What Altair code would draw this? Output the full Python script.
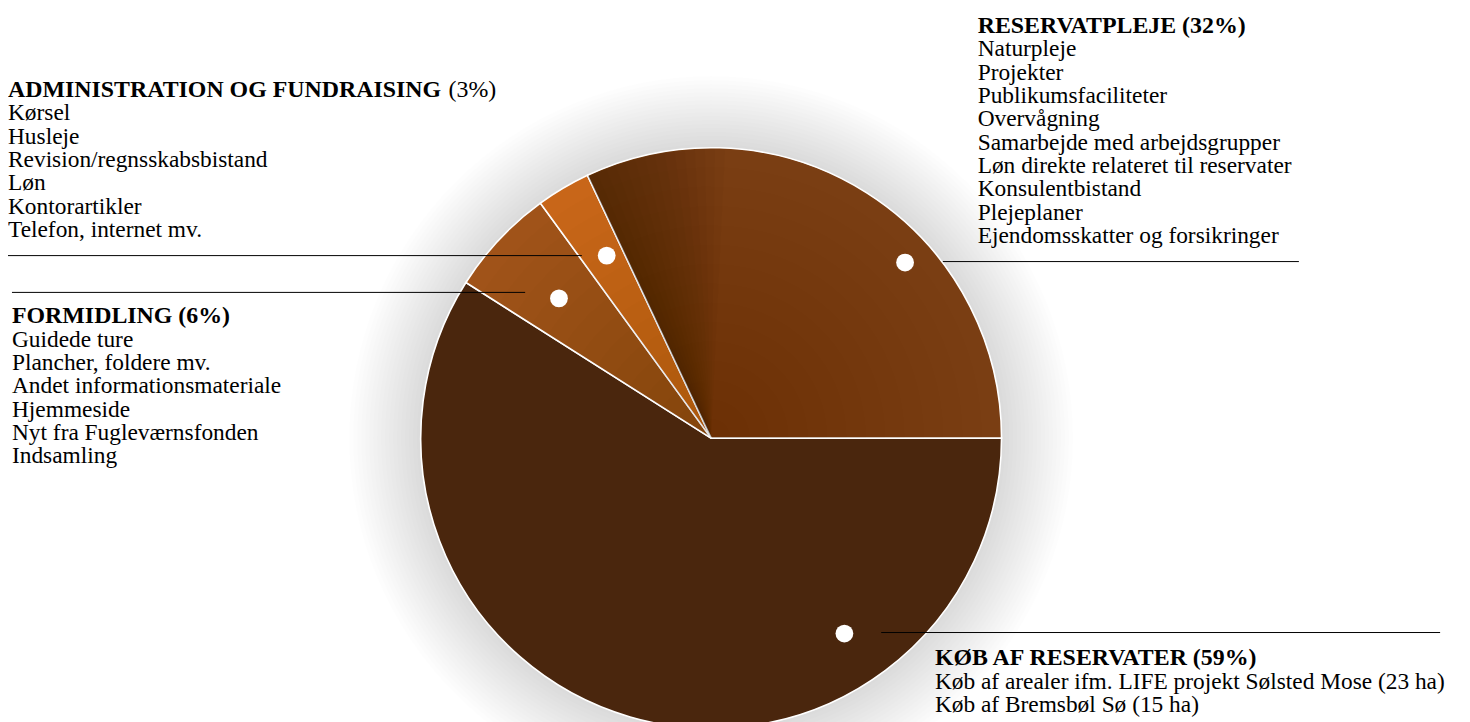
import math
import altair as alt
import pandas as pd

# ---- data ----
categories = ["KØB AF RESERVATER", "FORMIDLING", "ADMINISTRATION OG FUNDRAISING", "RESERVATPLEJE"]
shares = [59, 6, 3, 32]
slice_colors = ["#4a260d", "#a05319", "#c86619", "#7a3e13"]

items = [
    ["Køb af arealer ifm. LIFE projekt Sølsted Mose (23 ha)", "Køb af Bremsbøl Sø (15 ha)"],
    ["Guidede ture", "Plancher, foldere mv.", "Andet informationsmateriale", "Hjemmeside",
     "Nyt fra Fugleværnsfonden", "Indsamling"],
    ["Kørsel", "Husleje", "Revision/regnsskabsbistand", "Løn", "Kontorartikler", "Telefon, internet mv."],
    ["Naturpleje", "Projekter", "Publikumsfaciliteter", "Overvågning", "Samarbejde med arbejdsgrupper",
     "Løn direkte relateret til reservater", "Konsulentbistand", "Plejeplaner", "Ejendomsskatter og forsikringer"],
]
pct_bold = [True, True, False, True]

# ---- layout (pixels in chart coordinates; page = chart + 8) ----
W, H = 1462, 714
CX, CY, R = 707, 430.5, 292
FONT = "Liberation Serif"
FS = 23.5
FS_TITLE = 24
LH = 23.5
START = math.pi / 2

dot_x = [841, 554, 602, 902]
dot_y = [627, 290, 247, 254]
rule_x1 = [878, 4, 0, 940]
rule_x2 = [1440, 520, 577, 1298]
rule_y = [626, 284, 247, 253]
text_x = [932, 4, 0, 975]
title_y = [659, 315, 87.5, 23]
pct_x_extra = 443  # x of the non-bold percentage for the admin title

pie_df = pd.DataFrame({"cat": categories, "share": shares, "order": list(range(len(categories)))})

titles = [c + (f" ({s}%)" if b else "") for c, s, b in zip(categories, shares, pct_bold)]
lab_df = pd.DataFrame({
    "cat": categories,
    "title": titles,
    "body": ["\n".join(i) for i in items],
    "dx": dot_x, "dy": dot_y,
    "rx1": rule_x1, "rx2": rule_x2, "ry": rule_y,
    "tx": text_x, "ty": title_y,
    "by": [t + LH for t in title_y],
})
extra_df = pd.DataFrame({
    "t": [f"({s}%)" for s, b in zip(shares, pct_bold) if not b],
    "x": [pct_x_extra],
    "y": [title_y[pct_bold.index(False)]],
})
anchor_df = pd.DataFrame({"a": [0]})

layers = []

# soft shadow rings around the pie
for k in range(1, 19):
    layers.append(
        alt.Chart(anchor_df).mark_arc(theta=0, theta2=2 * math.pi, radius=R + 4 * k, radius2=0,
                                      color="#000000", opacity=0.0095)
        .encode(x=alt.value(CX), y=alt.value(CY))
    )

pie = alt.Chart(pie_df).mark_arc(radius=R, stroke="white", strokeWidth=1.6).encode(
    theta=alt.Theta("share:Q", stack=True, scale=alt.Scale(range=[START, START + 2 * math.pi])),
    color=alt.Color("cat:N", scale=alt.Scale(domain=categories, range=slice_colors), legend=None),
    order=alt.Order("order:Q"),
    x=alt.value(CX), y=alt.value(CY),
)
layers.append(pie)

# shading on the upper slices (slightly darker towards the centre)
cum = [sum(shares[:i]) for i in range(len(shares) + 1)]
total = cum[-1]
up_start = START + 2 * math.pi * cum[1] / total
up_end = START + 2 * math.pi
for k in range(1, 15):
    layers.append(
        alt.Chart(anchor_df).mark_arc(theta=up_start, theta2=up_end, radius=R * k / 15, radius2=0,
                                      color="#000000", opacity=0.009)
        .encode(x=alt.value(CX), y=alt.value(CY))
    )
# shadow cast onto RESERVATPLEJE next to the admin slice
res_start = START + 2 * math.pi * cum[3] / total
for k in range(1, 15):
    layers.append(
        alt.Chart(anchor_df).mark_arc(theta=res_start, theta2=res_start + math.radians(2.0 * k), radius=R - 1,
                                      radius2=0, color="#000000", opacity=0.02)
        .encode(x=alt.value(CX), y=alt.value(CY))
    )

base = alt.Chart(lab_df)
rules = base.mark_rule(color="black", strokeWidth=1).encode(
    x=alt.X("rx1:Q", scale=None), x2="rx2:Q", y=alt.Y("ry:Q", scale=None)
)
dots = base.mark_circle(color="white", opacity=1, size=320).encode(
    x=alt.X("dx:Q", scale=None), y=alt.Y("dy:Q", scale=None)
)
title_txt = base.mark_text(font=FONT, fontSize=FS_TITLE, fontWeight="bold", align="left", baseline="alphabetic",
                           color="black").encode(
    x=alt.X("tx:Q", scale=None), y=alt.Y("ty:Q", scale=None), text="title:N"
)
body_txt = base.mark_text(font=FONT, fontSize=FS, align="left", baseline="alphabetic", color="black",
                          lineBreak="\n", lineHeight=LH).encode(
    x=alt.X("tx:Q", scale=None), y=alt.Y("by:Q", scale=None), text="body:N"
)
extra_txt = alt.Chart(extra_df).mark_text(font=FONT, fontSize=FS_TITLE, align="left", baseline="alphabetic",
                                          color="black").encode(
    x=alt.X("x:Q", scale=None), y=alt.Y("y:Q", scale=None), text="t:N"
)
layers += [rules, dots, title_txt, body_txt, extra_txt]

chart = alt.layer(*layers).properties(
    width=W, height=H, padding=0, autosize=alt.AutoSizeParams(type="none")
).configure(background="white").configure_view(strokeWidth=0, stroke="transparent")

chart.save("out.html", embed_options={"renderer": "svg", "actions": False})
